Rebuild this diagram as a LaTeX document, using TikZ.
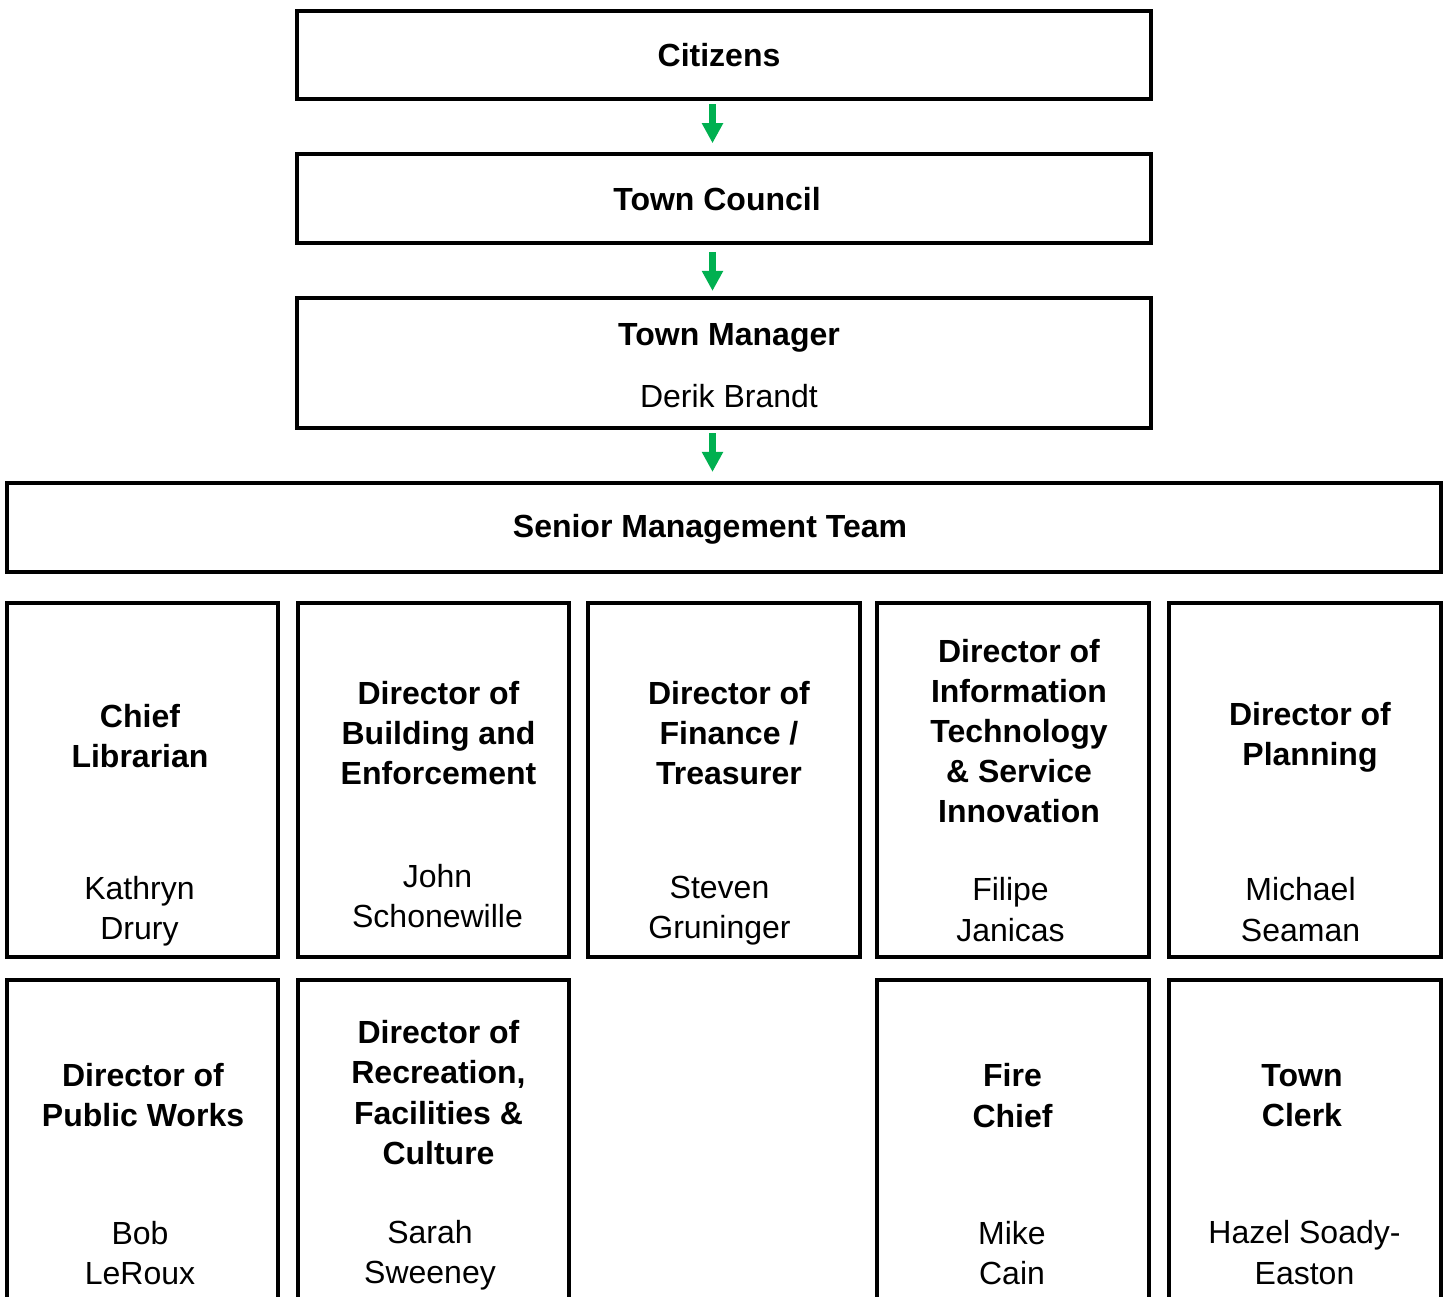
\documentclass[tikz,border=0pt]{standalone}
\usepackage{fontspec}
\setmainfont{Liberation Sans}
\usepackage{tikz}
\usetikzlibrary{arrows.meta, calc}
\definecolor{flow-green}{RGB}{0,176,80}

\begin{document}
\begin{tikzpicture}[x=0.01cm, y=-0.01cm,
		box/.style={draw, line width=0.04cm, inner sep=0pt},
		cell/.style={box, minimum width=2.71cm, minimum height=3.54cm},
		lowcell/.style={box, minimum width=2.71cm, minimum height=4cm},
		title/.style={align=center, font=\fontsize{9.1pt}{11.4pt}\selectfont\bfseries},
		person/.style={align=center, font=\fontsize{9.1pt}{11.4pt}\selectfont},
		flow/.style={-{Triangle[width=0.2cm, length=0.2cm]}, line width=0.066cm, flow-green, shorten <=0.03cm, shorten >=0.09cm}]
	\useasboundingbox (0,0) rectangle (1448,1296);
	\clip (0,0) rectangle (1448,1296);
	% top of the chart
	\node[box, minimum width=8.54cm, minimum height=0.885cm] (citizens) at (724,55) {};
	\node[box, minimum width=8.54cm, minimum height=0.885cm] (council) at (724,198.5) {};
	\node[box, minimum width=8.54cm, minimum height=1.30cm] (manager) at (724,363) {};
	\node[box, minimum width=14.34cm, minimum height=0.89cm] (smt) at (724,527.5) {};
	\node[title] (citizens-t) at (719,55) {Citizens};
	\node[title] (council-t) at (717,199) {Town Council};
	\node[title] (manager-t) at (729,338) {Town Manager};
	\node[person] (manager-n) at (729,396) {Derik Brandt};
	\node[title] (smt-t) at (710,529) {Senior Management Team};
	\coordinate (axis) at (712.5,0);
	\draw[flow] (citizens.south -| axis) -- (council.north -| axis);
	\draw[flow, shorten <=0.07cm, shorten >=0.05cm] (council.south -| axis) -- (manager.north -| axis);
	\draw[flow] (manager.south -| axis) -- (smt.north -| axis);
	% first row of directors
	\node[cell] (librarian) at (142.5,780) {};
	\node[cell] (building) at (433.5,780) {};
	\node[cell] (finance) at (724,780) {};
	\node[cell] (it) at (1013,780) {};
	\node[cell] (planning) at (1305,780) {};
	\node[title] (librarian-t) at (140,736) {Chief\\Librarian};
	\node[person] (librarian-n) at (139.5,911) {Kathryn\\Drury};
	\node[title] (building-t) at (438.5,733) {Director of\\Building and\\Enforcement};
	\node[person] (building-n) at (437.5,896) {John\\Schonewille};
	\node[title] (finance-t) at (729,733) {Director of\\Finance /\\Treasurer};
	\node[person] (finance-n) at (719.5,911) {Steven\\Gruninger};
	\node[title] (it-t) at (1019,731) {Director of\\Information\\Technology\\\& Service\\Innovation};
	\node[person] (it-n) at (1010.5,909.5) {Filipe\\Janicas};
	\node[title] (planning-t) at (1310,737) {Director of\\Planning};
	\node[person] (planning-n) at (1300.5,909.5) {Michael\\Seaman};
	% second row, cut off at the bottom
	\node[lowcell] (works) at (142.5,1180.5) {};
	\node[lowcell] (recreation) at (433.5,1180.5) {};
	\node[lowcell] (fire) at (1013,1180.5) {};
	\node[lowcell] (clerk) at (1305,1180.5) {};
	\node[title] (works-t) at (143,1095) {Director of\\Public Works};
	\node[person] (works-n) at (140,1253) {Bob\\LeRoux};
	\node[title] (recreation-t) at (438.5,1092.5) {Director of\\Recreation,\\Facilities \&\\Culture};
	\node[person] (recreation-n) at (430,1255) {Sarah\\Sweeney};
	\node[title] (fire-t) at (1012.5,1095.5) {Fire\\Chief};
	\node[person] (fire-n) at (1012,1253) {Mike\\Cain};
	\node[title] (clerk-t) at (1302,1095.5) {Town\\Clerk};
	\node[person] (clerk-n) at (1304.5,1252.5) {Hazel Soady-\\Easton};
\end{tikzpicture}
\end{document}
